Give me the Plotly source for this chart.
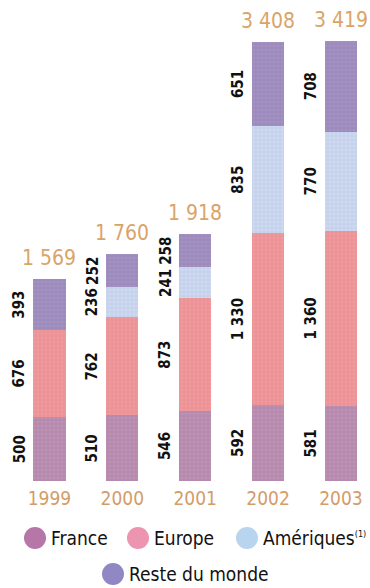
import plotly.graph_objects as go

# Revenue split by region (values per year)
years = ["1999", "2000", "2001", "2002", "2003"]
france = [500, 510, 546, 592, 581]
europe = [676, 762, 873, 1330, 1360]
ameriques = [None, 236, 241, 835, 770]
reste = [393, 252, 258, 651, 708]
totals = [1569, 1760, 1918, 3408, 3419]

series_names = ["France", "Europe", "Amériques", "Reste du monde"]
series_values = [france, europe, ameriques, reste]
bar_colors = ["#b48aae", "#ec9396", "#c6d2ec", "#9c8cbe"]
dot_colors = ["#c99ab8", "#f2a2a4", "#d8e0f4", "#b095c4"]
legend_colors = ["#b676a8", "#ec94b0", "#b8d4ee", "#9088c2"]

NARROW = "Liberation Sans Narrow, DejaVu Sans Condensed, Arial Narrow, sans-serif"
W, H = 370, 588
PLOT_BOTTOM = 481
PX_PER_UNIT = 0.1288
Y_MAX = PLOT_BOTTOM / PX_PER_UNIT

fig = go.Figure()

for name, vals, col, dot in zip(series_names, series_values, bar_colors, dot_colors):
    fig.add_trace(go.Bar(
        x=years,
        y=[v if v is not None else 0 for v in vals],
        name=name,
        width=0.44,
        marker=dict(
            color=col,
            line=dict(width=0),
            pattern=dict(shape=".", size=4, solidity=0.35, fgcolor=dot, bgcolor=col),
        ),
        showlegend=False,
        hoverinfo="skip",
    ))

annotations = []


def fmt(v):
    return f"{v:,}".replace(",", " ")


# Segment values, rotated, to the left of each bar
for i in range(len(years)):
    base = 0
    for vals in series_values:
        v = vals[i]
        if v is None:
            continue
        annotations.append(dict(
            x=i, y=base + v / 2, xref="x", yref="y",
            text=fmt(v),
            textangle=-90, showarrow=False,
            xshift=-30,
            font=dict(family=NARROW, size=15, color="#111111", weight="bold"),
        ))
        base += v

# Totals above the bars
for i, t in enumerate(totals):
    annotations.append(dict(
        x=i, y=t, xref="x", yref="y",
        text=fmt(t),
        showarrow=False, yanchor="bottom", yshift=7,
        font=dict(family=NARROW, size=21, color="#d9a468"),
    ))

# Legend drawn with circles and labels
legend_items = [
    (0, 35, 538, series_names[0]),
    (1, 138, 538, series_names[1]),
    (2, 247, 538, series_names[2] + "<sup><span style='font-size:9px'>(1)</span></sup>"),
    (3, 113, 574, series_names[3]),
]
shapes = []


def px_to_paper(px, py):
    return px / W, (PLOT_BOTTOM - py) / PLOT_BOTTOM


for idx, cx, cy, label in legend_items:
    px, py = px_to_paper(cx, cy)
    shapes.append(dict(
        type="circle", xref="paper", yref="paper",
        xsizemode="pixel", ysizemode="pixel",
        xanchor=px, yanchor=py,
        x0=-11, x1=11, y0=-11, y1=11,
        fillcolor=legend_colors[idx], line=dict(width=0),
    ))
    tx, ty = px_to_paper(cx + 14, cy)
    annotations.append(dict(
        x=tx, y=ty, xref="paper", yref="paper",
        text=label, showarrow=False, xanchor="left", yanchor="middle",
        font=dict(family=NARROW, size=19, color="#111111"),
    ))

fig.update_layout(
    barmode="stack",
    width=W, height=H,
    margin=dict(l=0, r=0, t=0, b=H - PLOT_BOTTOM),
    paper_bgcolor="white",
    plot_bgcolor="white",
    annotations=annotations,
    shapes=shapes,
    xaxis=dict(
        type="category",
        range=[-0.679, 4.398],
        showgrid=False, zeroline=False, showline=False,
        ticks="", ticklabelstandoff=4,
        tickfont=dict(family=NARROW, size=19, color="#d39c68"),
    ),
    yaxis=dict(
        range=[0, Y_MAX],
        visible=False,
    ),
)

fig.write_html("out.html")
